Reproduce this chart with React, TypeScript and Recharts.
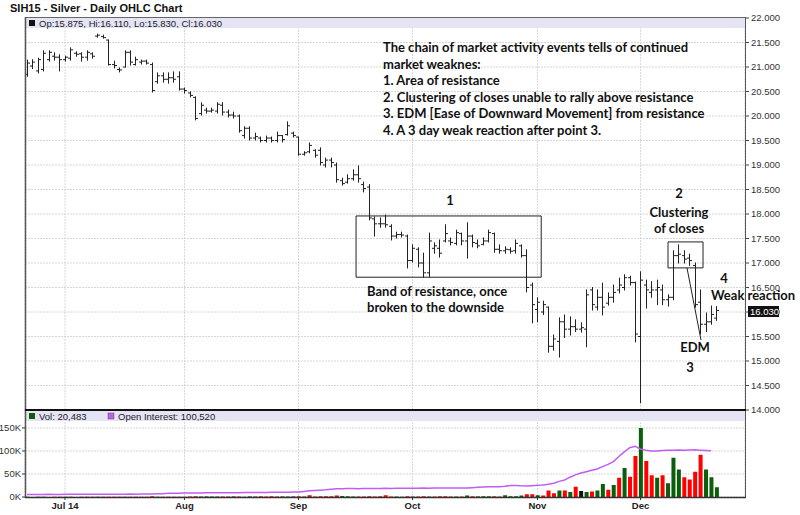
import React from 'react';
import { ComposedChart, Bar, Line, XAxis, YAxis, CartesianGrid, ReferenceArea, Cell } from 'recharts';

// daily OHLC, SIH15, Jun 20 - Dec 19 2014 (one entry per trading day)
const opens = [
  20.85, 21.02, 20.92, 20.95, 21.15, 21.22, 21.2, 21.15, 21.18, 21.28,
  21.27, 21.2, 21.27, 21.63, 21.62, 21.55, 21.05, 20.95, 21.0, 21.3,
  21.05, 21.1, 21.12, 21.05, 20.7, 20.82, 20.75, 20.78, 20.8, 20.55,
  20.47, 20.38, 20.05, 20.12, 20.1, 20.1, 20.22, 20.08, 20.02, 20.0,
  19.6, 19.75, 19.55, 19.55, 19.5, 19.55, 19.5, 19.6, 19.62, 19.65,
  19.57, 19.22, 19.27, 19.3, 19.3, 19.0, 19.1, 19.0, 18.68, 18.65,
  18.72, 18.8, 18.6, 18.55, 17.9, 17.8, 17.8, 17.75, 17.55, 17.58,
  17.55, 17.05, 17.28, 17.0, 16.8, 17.3, 17.3, 17.45, 17.45, 17.4,
  17.6, 17.45, 17.55, 17.4, 17.38, 17.45, 17.6, 17.28, 17.25, 17.27,
  17.25, 17.35, 17.15, 16.55, 16.05, 16.0, 16.1, 15.3, 15.4, 15.8,
  15.65, 15.7, 15.65, 15.65, 16.45, 16.1, 16.3, 16.18, 16.3, 16.45,
  16.5, 16.7, 16.6, 15.5, 16.55, 16.4, 16.45, 16.45, 16.25, 16.3,
  17.15, 17.15, 17.1, 16.95, 16.2, 15.75, 15.8, 15.875,
];
const highs = [
  21.14, 21.15, 21.18, 21.33, 21.33, 21.29, 21.25, 21.22, 21.39, 21.31,
  21.29, 21.33, 21.29, 21.67, 21.65, 21.55, 21.12, 20.98, 21.33, 21.33,
  21.2, 21.14, 21.14, 21.08, 20.88, 20.88, 20.88, 20.9, 20.9, 20.57,
  20.49, 20.39, 20.27, 20.16, 20.16, 20.27, 20.27, 20.12, 20.08, 20.02,
  19.78, 19.78, 19.65, 19.57, 19.59, 19.57, 19.67, 19.6, 19.88, 19.67,
  19.57, 19.27, 19.45, 19.31, 19.35, 19.14, 19.14, 19.04, 18.73, 18.8,
  18.9, 18.98, 18.65, 18.6, 17.94, 17.92, 17.98, 17.78, 17.63, 17.63,
  17.57, 17.37, 17.31, 17.2, 17.61, 17.41, 17.47, 17.78, 17.51, 17.67,
  17.61, 17.82, 17.57, 17.47, 17.51, 17.67, 17.61, 17.37, 17.33, 17.31,
  17.47, 17.37, 17.27, 16.59, 16.29, 16.22, 16.1, 15.53, 15.88, 15.94,
  15.9, 15.84, 15.78, 16.45, 16.5, 16.45, 16.59, 16.39, 16.55, 16.69,
  16.76, 16.73, 16.61, 16.82, 16.65, 16.62, 16.65, 16.55, 16.35, 17.25,
  17.37, 17.25, 17.18, 17.0, 16.45, 15.98, 16.12, 16.11,
];
const lows = [
  20.81, 20.97, 20.88, 20.92, 21.12, 21.14, 20.92, 21.12, 21.14, 21.22,
  21.12, 21.14, 21.18, 21.61, 21.59, 21.04, 20.98, 20.9, 21.0, 21.04,
  21.04, 21.06, 21.06, 20.49, 20.67, 20.69, 20.67, 20.69, 20.53, 20.47,
  20.39, 19.92, 20.02, 20.06, 20.08, 20.06, 20.02, 19.98, 19.96, 19.67,
  19.55, 19.51, 19.51, 19.47, 19.47, 19.47, 19.47, 19.47, 19.61, 19.57,
  19.2, 19.2, 19.25, 19.16, 19.0, 18.96, 18.96, 18.65, 18.59, 18.63,
  18.69, 18.65, 18.45, 17.88, 17.55, 17.73, 17.73, 17.47, 17.51, 17.53,
  16.9, 17.02, 16.92, 16.71, 16.72, 17.2, 17.12, 17.43, 17.37, 17.37,
  17.37, 17.1, 17.33, 17.31, 17.37, 17.43, 17.22, 17.2, 17.2, 17.2,
  17.2, 17.12, 16.41, 15.78, 15.8, 15.95, 15.18, 15.22, 15.08, 15.48,
  15.53, 15.6, 15.59, 15.29, 16.04, 16.04, 15.94, 16.14, 16.2, 16.39,
  16.45, 16.55, 15.39, 14.15, 16.08, 16.3, 16.15, 16.15, 16.12, 16.25,
  17.0, 17.0, 16.95, 16.1, 15.55, 15.6, 15.75, 15.83,
];
const closes = [
  21.08, 21.1, 21.15, 21.28, 21.3, 21.2, 21.15, 21.2, 21.35, 21.26,
  21.2, 21.3, 21.22, 21.65, 21.6, 21.05, 21.03, 20.94, 21.3, 21.1,
  21.15, 21.12, 21.08, 20.52, 20.82, 20.75, 20.78, 20.75, 20.55, 20.52,
  20.42, 19.95, 20.22, 20.1, 20.12, 20.24, 20.08, 20.02, 20.0, 19.7,
  19.75, 19.55, 19.58, 19.5, 19.55, 19.5, 19.6, 19.52, 19.8, 19.6,
  19.22, 19.25, 19.4, 19.2, 19.05, 19.1, 19.05, 18.7, 18.62, 18.72,
  18.8, 18.72, 18.52, 17.92, 17.8, 17.8, 17.78, 17.55, 17.58, 17.57,
  17.05, 17.3, 17.0, 16.8, 17.45, 17.35, 17.2, 17.6, 17.42, 17.62,
  17.45, 17.55, 17.42, 17.35, 17.45, 17.62, 17.28, 17.25, 17.28, 17.24,
  17.4, 17.15, 16.5, 16.15, 16.2, 16.15, 15.3, 15.45, 15.8, 15.65,
  15.7, 15.65, 15.68, 16.35, 16.15, 16.3, 16.1, 16.3, 16.4, 16.55,
  16.7, 16.6, 15.55, 16.65, 16.45, 16.45, 16.5, 16.25, 16.3, 17.15,
  17.18, 17.08, 17.05, 16.15, 15.75, 15.8, 15.95, 16.03,
];

// volume in thousands, with day direction (u = up, d = down, n = unchanged)
const volumes = [
  0.3, 0.2, 0.3, 0.4, 0.2, 0.3, 0.3, 0.4, 0.3, 0.2,
  0.3, 0.4, 0.3, 0.5, 0.3, 0.6, 0.4, 0.3, 0.4, 0.3,
  0.4, 0.4, 0.5, 1.5, 0.5, 0.6, 0.5, 0.7, 0.8, 0.6,
  1.2, 1.4, 1.0, 1.2, 0.9, 1.0, 1.3, 1.1, 1.2, 0.9,
  0.8, 1.0, 0.9, 1.4, 1.2, 1.5, 1.3, 1.1, 1.0, 1.2,
  1.6, 1.3, 4.0, 1.2, 1.5, 1.6, 1.4, 3.0, 2.0, 1.5,
  1.2, 1.0, 1.3, 1.5, 1.2, 1.6, 4.0, 1.0, 1.2, 0.8,
  1.5, 0.9, 1.1, 1.5, 1.0, 1.3, 1.6, 1.4, 1.2, 1.0,
  0.9, 3.0, 1.5, 1.0, 1.6, 1.8, 1.5, 1.2, 4.0, 1.8,
  1.5, 3.0, 6.0, 6.0, 4.0, 3.0, 14, 8, 14, 14,
  11, 22, 13, 11, 12, 14, 28, 16, 26, 42,
  63, 44, 89, 150, 78, 47, 42, 47, 30, 85,
  60, 43, 38, 55, 92, 60, 43, 21,
];
const volDirection = [
  'u', 'd', 'u', 'u', 'u', 'd', 'd', 'u', 'u', 'd',
  'd', 'u', 'd', 'u', 'd', 'd', 'd', 'd', 'u', 'd',
  'u', 'd', 'd', 'd', 'u', 'd', 'u', 'd', 'd', 'd',
  'd', 'd', 'u', 'n', 'u', 'u', 'd', 'd', 'n', 'd',
  'u', 'n', 'u', 'd', 'd', 'd', 'd', 'n', 'u', 'n',
  'd', 'u', 'd', 'd', 'd', 'd', 'd', 'd', 'u', 'u',
  'u', 'd', 'd', 'd', 'd', 'd', 'd', 'd', 'u', 'u',
  'd', 'u', 'd', 'd', 'u', 'd', 'd', 'd', 'd', 'u',
  'd', 'u', 'd', 'n', 'u', 'u', 'd', 'd', 'u', 'u',
  'u', 'u', 'd', 'd', 'u', 'd', 'd', 'd', 'u', 'd',
  'u', 'd', 'n', 'u', 'd', 'u', 'u', 'd', 'u', 'd',
  'u', 'd', 'd', 'u', 'd', 'd', 'u', 'd', 'u', 'u',
  'u', 'd', 'd', 'd', 'd', 'u', 'u', 'u',
];
// open interest in thousands (last day not yet reported)
const openInterest = [
  5.6, 5.5, 5.7, 5.6, 5.8, 5.7, 5.7, 5.9, 5.8, 5.8,
  5.9, 5.8, 6.0, 5.9, 6.1, 6.0, 6.0, 6.2, 6.1, 6.3,
  6.2, 6.4, 6.6, 6.7, 7.2, 7.3, 7.9, 8.0, 8.4, 8.6,
  8.5, 8.8, 8.7, 9.0, 9.1, 9.0, 9.3, 9.2, 9.5, 9.4,
  9.7, 9.6, 9.8, 10.0, 9.9, 10.1, 10.3, 10.2, 10.4, 10.6,
  10.7, 12.1, 13.6, 14.2, 14.8, 15.6, 16.9, 17.8, 18.0, 18.2,
  18.3, 18.1, 18.4, 18.6, 18.5, 18.7, 18.8, 18.6, 19.0, 19.1,
  19.0, 19.2, 19.1, 19.3, 19.2, 19.4, 19.5, 19.3, 19.6, 19.5,
  19.7, 19.8, 20.3, 21.0, 21.6, 22.2, 22.0, 22.5, 23.1, 24.8,
  25.0, 24.2, 23.7, 24.6, 25.5, 26.0, 27.5, 30, 34, 37,
  43, 48, 52, 55, 58, 61, 66, 71, 77, 88,
  98, 107, 110, 104, 101.5, 100, 100.2, 100.8, 101.4, 101.8,
  102.3, 101.6, 102.1, 102.4, 101.7, 101.2, 100.5, null,
];

const monthTicks = [7, 29, 50, 71, 94, 113];
const monthLabels = ['Jul 14', 'Aug', 'Sep', 'Oct', 'Nov', 'Dec'];
const priceTicks = [14, 14.5, 15, 15.5, 16, 16.5, 17, 17.5, 18, 18.5, 19, 19.5, 20, 20.5, 21, 21.5, 22];
const volumeTicks = [0, 50, 100, 150];

const rows = opens.map((open, i) => ({
  i,
  open,
  high: highs[i],
  low: lows[i],
  close: closes[i],
  vol: volumes[i],
  dir: volDirection[i],
  oi: openInterest[i],
}));

const X_DOMAIN = [-0.37, 132.23];
const AXIS_FONT = '"Liberation Sans", Arial, sans-serif';
const NOTE_FONT = 'Lato, "Open Sans", sans-serif';
const volColor = { u: '#0b5e0b', d: '#ff0000', n: '#111111' };

const OhlcShape = (props: any) => {
  const { x, y, width, height, payload } = props;
  const top = Math.min(y, y + height);
  const bottom = Math.max(y, y + height);
  const span = payload.high - payload.low;
  const toY = (v: number) => (span === 0 ? top : top + ((payload.high - v) / span) * (bottom - top));
  const cx = Math.round(x + width / 2) + 0.5;
  return (
    <g stroke="#222" strokeWidth={1}>
      <line x1={cx} x2={cx} y1={top - 0.5} y2={bottom + 0.5} />
      <line x1={cx - 2.5} x2={cx} y1={toY(payload.open)} y2={toY(payload.open)} />
      <line x1={cx} x2={cx + 2.5} y1={toY(payload.close)} y2={toY(payload.close)} />
    </g>
  );
};

const noteLines = [
  'The chain of market activity events tells of continued',
  'market weaknes:',
  '1. Area of resistance',
  '2. Clustering of closes unable to rally above resistance',
  '3. EDM [Ease of Downward Movement] from resistance',
  '4. A 3 day weak reaction after point 3.',
];

const Overlay = () => (
  <svg width={800} height={515} style={{ position: 'absolute', left: 0, top: 0, pointerEvents: 'none' }}>
    <text x={10} y={12} fontFamily={AXIS_FONT} fontWeight="bold" fontSize={11} fill="#111">
      SIH15 - Silver - Daily OHLC Chart
    </text>
    {/* legend bands */}
    <rect x={26} y={18} width={719} height={10} fill="#e4e4f5" />
    <rect x={29} y={20} width={6} height={6} fill="#111" />
    <text x={39} y={26.5} fontFamily={AXIS_FONT} fontSize={9.5} fill="#222">
      Op:15.875, Hi:16.110, Lo:15.830, Cl:16.030
    </text>
    <rect x={26} y={411} width={719} height={10} fill="#e4e4f5" />
    <rect x={29} y={413} width={6} height={6} fill="#0b5e0b" />
    <text x={39} y={419.5} fontFamily={AXIS_FONT} fontSize={9.5} fill="#222">Vol: 20,483</text>
    <rect x={108} y={413} width={6} height={6} fill="#c25cf2" stroke="#555" strokeWidth={0.5} />
    <text x={118} y={419.5} fontFamily={AXIS_FONT} fontSize={9.5} fill="#222">Open Interest: 100,520</text>
    {/* frames */}
    <line x1={25} x2={745} y1={17.5} y2={17.5} stroke="#666" />
    <line x1={25.5} x2={25.5} y1={17} y2={498} stroke="#555" strokeWidth={1.5} />
    <line x1={745.5} x2={745.5} y1={17} y2={498} stroke="#555" />
    <line x1={25} x2={746} y1={410} y2={410} stroke="#111" strokeWidth={2} />
    <line x1={25} x2={746} y1={497.5} y2={497.5} stroke="#333" strokeWidth={1.5} />
    {/* last price flag */}
    <rect x={748} y={306} width={31} height={11} fill="#111" />
    <text x={750} y={315} fontFamily={AXIS_FONT} fontSize={9.5} fill="#fff">16.030</text>
    {/* annotations */}
    <g fontFamily={NOTE_FONT} fontWeight="bold" fontSize={13} fill="#111">
      {noteLines.map((t, k) => (
        <text key={k} x={383} y={52 + k * 16.6}>{t}</text>
      ))}
      <text x={450} y={205} textAnchor="middle">1</text>
      <text x={367} y={296}>Band of resistance, once</text>
      <text x={367} y={312}>broken to the downside</text>
      <text x={679} y={198} textAnchor="middle">2</text>
      <text x={679} y={217} textAnchor="middle">Clustering</text>
      <text x={679} y={233} textAnchor="middle">of closes</text>
      <text x={695} y={352} textAnchor="middle">EDM</text>
      <text x={690} y={372} textAnchor="middle">3</text>
      <text x={724} y={283} textAnchor="middle">4</text>
      <text x={711} y={300}>Weak reaction</text>
    </g>
    <line x1={687} y1={268} x2={701} y2={340} stroke="#222" strokeWidth={1} />
  </svg>
);

const App = () => {
  return (
    <div style={{ position: 'absolute', left: 0, top: 0, width: 800, height: 515, background: '#fff', overflow: 'hidden' }}>
      <div style={{ position: 'absolute', left: 0, top: 400 }}>
        <ComposedChart width={800} height={115} data={rows} margin={{ top: 10, right: 0, bottom: 0, left: 0 }}>
          <CartesianGrid yAxisId="l" stroke="#d6d6d6" strokeDasharray="2 1" />
          <XAxis
            dataKey="i"
            type="number"
            domain={X_DOMAIN}
            allowDataOverflow
            ticks={monthTicks}
            interval={0}
            tickFormatter={(v: number) => monthLabels[monthTicks.indexOf(v)]}
            height={18}
            tickSize={3}
            tickMargin={2}
            axisLine={false}
            tickLine={{ stroke: '#333' }}
            tick={{ fontSize: 9.5, fontWeight: 'bold', fill: '#222', fontFamily: AXIS_FONT }}
          />
          <YAxis
            yAxisId="l"
            orientation="left"
            width={25}
            domain={[0, 189]}
            ticks={volumeTicks}
            interval={0}
            tickFormatter={(v: number) => `${v}K`}
            tickSize={3}
            tickMargin={1}
            axisLine={false}
            tickLine={{ stroke: '#333' }}
            tick={{ fontSize: 9.5, fill: '#333', fontFamily: AXIS_FONT }}
          />
          <YAxis
            yAxisId="r"
            orientation="right"
            width={55}
            domain={[0, 189]}
            ticks={volumeTicks}
            interval={0}
            tickFormatter={(v: number) => `${v}K`}
            tickSize={4}
            tickMargin={2}
            axisLine={false}
            tickLine={{ stroke: '#333' }}
            tick={{ fontSize: 9.5, fill: '#333', fontFamily: AXIS_FONT }}
          />
          <Bar yAxisId="l" dataKey="vol" barSize={4} isAnimationActive={false}>
            {rows.map((r) => (
              <Cell key={r.i} fill={volColor[r.dir as 'u' | 'd' | 'n']} />
            ))}
          </Bar>
          <Line
            yAxisId="l"
            dataKey="oi"
            stroke="#c25cf2"
            strokeWidth={1.5}
            dot={false}
            activeDot={false}
            isAnimationActive={false}
          />
        </ComposedChart>
      </div>
      <div style={{ position: 'absolute', left: 0, top: 0 }}>
        <ComposedChart width={800} height={420} data={rows} margin={{ top: 18, right: 0, bottom: 10, left: 25 }}>
          <CartesianGrid stroke="#d6d6d6" strokeDasharray="2 1" />
          <XAxis dataKey="i" type="number" domain={X_DOMAIN} allowDataOverflow ticks={monthTicks} interval={0} hide />
          <YAxis
            orientation="right"
            width={55}
            domain={[14, 22]}
            allowDataOverflow
            ticks={priceTicks}
            interval={0}
            tickFormatter={(v: number) => v.toFixed(3)}
            tickSize={4}
            tickMargin={2}
            axisLine={false}
            tickLine={{ stroke: '#444' }}
            tick={{ fontSize: 9.5, fill: '#333', fontFamily: AXIS_FONT }}
          />
          <Bar dataKey={(d: any) => [d.low, d.high]} shape={<OhlcShape />} barSize={5} isAnimationActive={false} />
          <ReferenceArea x1={60.6} x2={94.7} y1={16.71} y2={17.96} fill="none" stroke="#222" strokeWidth={1} ifOverflow="visible" />
          <ReferenceArea x1={118.05} x2={124.5} y1={16.9} y2={17.43} fill="none" stroke="#222" strokeWidth={1} ifOverflow="visible" />
        </ComposedChart>
      </div>
      <Overlay />
    </div>
  );
};

export default App;
